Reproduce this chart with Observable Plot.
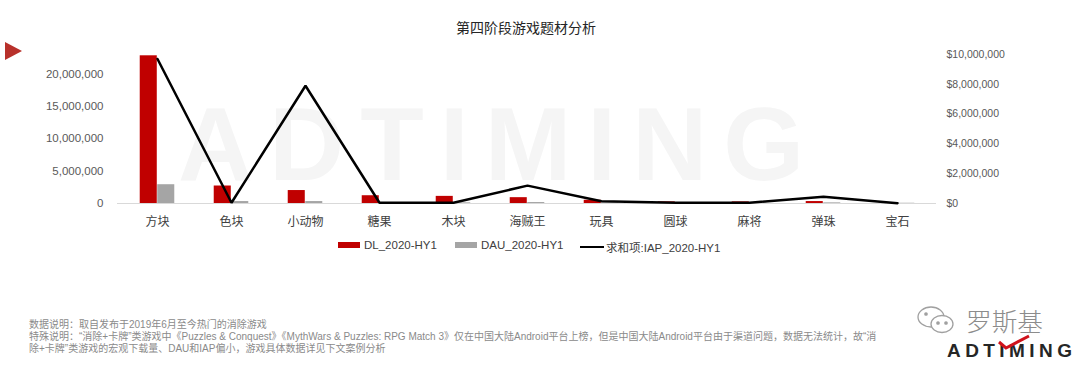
<!DOCTYPE html>
<html>
<head>
<meta charset="utf-8">
<script src="https://cdn.jsdelivr.net/npm/d3@7"></script>
<script src="https://cdn.jsdelivr.net/npm/@observablehq/plot@0.6"></script>
<style>
  html, body { margin: 0; padding: 0; background: #fff; }
  body { width: 1080px; height: 370px; position: relative; overflow: hidden; font-family: "Noto Sans CJK SC", "Liberation Sans", sans-serif; }
  #wm { position: absolute; left: 178px; top: 104px; height: 80px; line-height: 80px; font-family: "Liberation Sans", sans-serif; font-weight: 700; font-size: 104px; letter-spacing: 16px; color: #f5f5f5; z-index: 0; white-space: nowrap; }
  #title { position: absolute; left: 0; top: 17px; width: 1052px; text-align: center; font-size: 14px; color: #262626; z-index: 2; }
  #tri { position: absolute; left: 5px; top: 42px; z-index: 2; }
  #chart { position: absolute; left: 0; top: 40px; z-index: 1; }
  #legend { position: absolute; top: 239px; left: 0; width: 1080px; z-index: 2; font-family: "Liberation Sans", "Noto Sans CJK SC", sans-serif; font-size: 11.5px; color: #404040; }
  .li { position: absolute; display: flex; align-items: center; white-space: nowrap; }
  .sw { display: inline-block; margin-right: 4px; }
  #notes { position: absolute; left: 29px; top: 319px; font-family: "Liberation Sans", "Noto Sans CJK SC", sans-serif; font-size: 10px; line-height: 12px; color: #8a8a8a; z-index: 2; white-space: nowrap; }
  #logo { position: absolute; left: 900px; top: 300px; width: 180px; height: 70px; z-index: 2; }
</style>
</head>
<body>
<div id="wm">ADTIMING</div>
<svg id="tri" width="20" height="20"><polygon points="0,0 17,9 0,18" fill="#b8312b"/></svg>
<div id="title">第四阶段游戏题材分析</div>
<div id="chart"></div>
<div id="legend"></div>
<div id="notes">
  <div>数据说明：取自发布于2019年6月至今热门的消除游戏</div>
  <div>特殊说明：“消除+卡牌”类游戏中《Puzzles &amp; Conquest》《MythWars &amp; Puzzles: RPG Match 3》仅在中国大陆Android平台上榜，但是中国大陆Android平台由于渠道问题，数据无法统计，故“消</div>
  <div>除+卡牌”类游戏的宏观下载量、DAU和IAP偏小，游戏具体数据详见下文案例分析</div>
</div>
<div id="logo">
  <svg width="180" height="70">
    <g fill="none" stroke="#a0a0a0" stroke-width="1.3">
      <ellipse cx="31" cy="17" rx="13" ry="10"/>
      <ellipse cx="42" cy="24" rx="11" ry="8.5" fill="#fff"/>
      <circle cx="38" cy="23" r="1.2" fill="#a0a0a0"/>
      <circle cx="46" cy="23" r="1.2" fill="#a0a0a0"/>
      <circle cx="26" cy="14" r="1.2" fill="#a0a0a0"/>
    </g>
    <text x="66" y="31" font-family="Noto Sans CJK SC" font-size="25" fill="#8c8c8c" font-weight="300" textLength="77" lengthAdjust="spacingAndGlyphs">罗斯基</text>
    <text x="47" y="57" font-family="Liberation Sans" font-weight="700" font-size="19" fill="#262626" textLength="125" lengthAdjust="spacing">ADTIMING</text>
    <path d="M99,42 L106,48 L129,36" fill="none" stroke="#d0121b" stroke-width="3"/>
  </svg>
</div>
<script>
const categories = ["方块","色块","小动物","糖果","木块","海贼王","玩具","圆球","麻将","弹珠","宝石"];
const dl  = [22800000, 2700000, 2000000, 1200000, 1100000, 900000, 500000, 250000, 250000, 300000, 50000];
const dau = [2900000, 300000, 300000, 100000, 100000, 150000, 80000, 50000, 50000, 100000, 40000];
const iap = [9700000, 50000, 7900000, 50000, 50000, 1200000, 150000, 50000, 50000, 450000, 20000];
const leftTicks = [0, 5000000, 10000000, 15000000, 20000000];
const rightTicks = [0, 2000000, 4000000, 6000000, 8000000, 10000000];
const seriesNames = ["DL_2020-HY1", "DAU_2020-HY1", "求和项:IAP_2020-HY1"];
const colors = ["#c00000", "#a5a5a5", "#000000"];

const leftMax = 23000000, rightMax = 10000000;
const k = leftMax / rightMax;
const rows = categories.map((c, i) => ({cat: c, dl: dl[i], dau: dau[i], iap: iap[i]}));

const W = 1080, H = 200, ml = 117, mr = 144, mt = 14, mb = 37;
const bw = (W - ml - mr) / categories.length;
const half = bw / 2, barW = 17.5;
const num = d3.format(",");

const chart = Plot.plot({
  width: W, height: H,
  marginLeft: ml, marginRight: mr, marginTop: mt, marginBottom: mb,
  style: {fontFamily: "Liberation Sans, Noto Sans CJK SC, sans-serif", fontSize: "11.5px", color: "#595959", background: "transparent"},
  x: {domain: categories, padding: 0, label: null},
  y: {domain: [0, leftMax], label: null},
  marks: [
    Plot.axisY({ticks: leftTicks, tickFormat: num, tickSize: 0, tickPadding: 14, label: null, fontSize: 11.5}),
    Plot.axisY({anchor: "right", ticks: rightTicks.map(t => t * k), tickFormat: v => "$" + num(Math.round(v / k)), tickSize: 0, tickPadding: 10, label: null, fontSize: 10.5}),
    Plot.axisX({tickSize: 0, tickPadding: 14, label: null, fontFamily: "Noto Sans CJK SC", fontSize: 12, color: "#404040"}),
    Plot.barY(rows, {x: "cat", y: "dl", fill: colors[0], insetLeft: half - barW, insetRight: half}),
    Plot.barY(rows, {x: "cat", y: "dau", fill: colors[1], insetLeft: half, insetRight: half - barW}),
    Plot.ruleY([0], {stroke: "#d9d9d9", strokeWidth: 1}),
    Plot.line(rows, {x: "cat", y: d => d.iap * k, stroke: colors[2], strokeWidth: 2.5, strokeLinejoin: "miter"})
  ]
});
document.getElementById("chart").appendChild(chart);

// legend
const legend = document.getElementById("legend");
const pos = [338, 455, 580];
seriesNames.forEach((name, i) => {
  const item = document.createElement("div");
  item.className = "li";
  item.style.left = pos[i] + "px";
  const sw = document.createElement("span");
  sw.className = "sw";
  if (i < 2) { sw.style.width = "22px"; sw.style.height = "6px"; sw.style.background = colors[i]; }
  else { sw.style.width = "24px"; sw.style.height = "2.5px"; sw.style.background = colors[i]; sw.style.marginRight = "2px"; }
  item.appendChild(sw);
  const t = document.createElement("span");
  t.textContent = name;
  item.appendChild(t);
  legend.appendChild(item);
});
</script>
</body>
</html>
